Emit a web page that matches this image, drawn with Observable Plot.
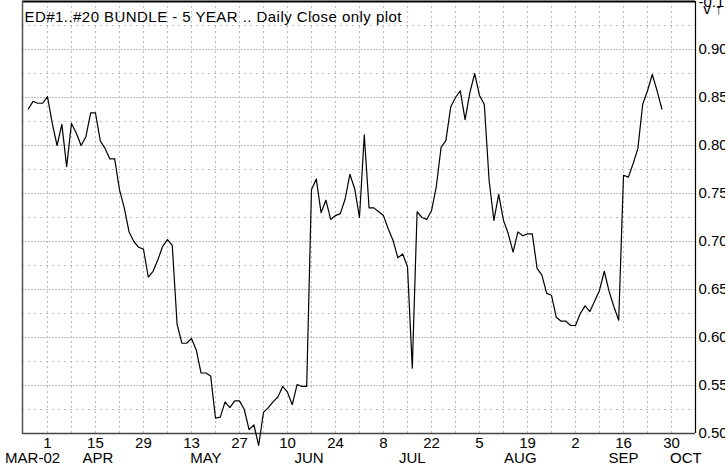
<!DOCTYPE html>
<html><head><meta charset="utf-8">
<script src="https://cdn.jsdelivr.net/npm/d3@7"></script>
<script src="https://cdn.jsdelivr.net/npm/@observablehq/plot@0.6"></script>
<style>html,body{margin:0;padding:0;background:#fff}#chart svg{display:block}</style>
</head><body><div id="chart"></div>
<script>
const title = "ED#1..#20 BUNDLE - 5 YEAR .. Daily Close only plot";
const firstDate = "2002-03-26";
const closes = [
  0.838,0.846,0.844,0.844,0.851,0.823,0.800,0.822,0.778,0.823,
  0.813,0.800,0.809,0.834,0.834,0.805,0.797,0.786,0.786,0.754,
  0.735,0.710,0.700,0.694,0.692,0.663,0.669,0.681,0.695,0.702,
  0.696,0.614,0.594,0.594,0.599,0.587,0.563,0.563,0.560,0.516,
  0.517,0.533,0.527,0.534,0.534,0.525,0.504,0.509,0.4875,0.522,
  0.527,0.533,0.538,0.549,0.543,0.530,0.551,0.549,0.549,0.754,
  0.765,0.730,0.743,0.723,0.727,0.729,0.744,0.770,0.755,0.725,
  0.811,0.735,0.735,0.731,0.727,0.713,0.701,0.683,0.687,0.674,
  0.568,0.731,0.725,0.723,0.732,0.757,0.798,0.805,0.840,0.850,
  0.857,0.827,0.855,0.875,0.852,0.843,0.764,0.722,0.749,0.722,
  0.708,0.689,0.710,0.706,0.708,0.708,0.672,0.665,0.646,0.644,
  0.621,0.617,0.617,0.6125,0.6125,0.625,0.633,0.627,0.638,0.649,
  0.669,0.648,0.632,0.618,0.769,0.767,0.781,0.797,0.843,0.857,
  0.874,0.857,0.838
];
const tickDates = ["2002-04-01","2002-04-15","2002-04-29","2002-05-13","2002-05-27","2002-06-10","2002-06-24","2002-07-08","2002-07-22","2002-08-05","2002-08-19","2002-09-02","2002-09-16","2002-09-30"];
const monthLabels = ["MAR-02","APR","MAY","JUN","JUL","AUG","SEP","OCT"];
const monthNumbers = [3,4,5,6,7,8,9,10];
const yTicks = [0.50,0.55,0.60,0.65,0.70,0.75,0.80,0.85,0.90];
const yMinor = [0.525,0.575,0.625,0.675,0.725,0.775,0.825,0.875,0.925];
const topLabel = "-0.1";

// weekday (trading-day) index relative to 2002-04-01
const origin = Date.UTC(2002,3,1);
const DAY = 86400000;
function isWeekday(t){const w=new Date(t).getUTCDay();return w!==0&&w!==6;}
function wd(t){
  let n=0, step = t>=origin?1:-1, cur=origin;
  while(cur!==t){cur+=step*DAY; if(isWeekday(cur)) n+=step;}
  return n;
}
function parse(s){const [y,m,d]=s.split("-").map(Number);return Date.UTC(y,m-1,d);}

const xDomain = [-5.2, 135];

const series = [];
{ let t = parse(firstDate); let idx = wd(t);
  for (const v of closes){ series.push({i: idx, v}); t+=DAY; while(!isWeekday(t)) t+=DAY; idx++; } }

const tickIdx = tickDates.map(s => wd(parse(s)));
const tickText = tickDates.map(s => String(Number(s.slice(8))));

const months = monthNumbers.map((m,j) => {
  let lo=Infinity, hi=-Infinity;
  for(let d=1; d<=31; d++){
    const t=Date.UTC(2002,m-1,d); if(new Date(t).getUTCMonth()!==m-1) break;
    if(isWeekday(t)){const k=wd(t); lo=Math.min(lo,k); hi=Math.max(hi,k);}
  }
  lo=Math.max(lo,xDomain[0]); hi=Math.min(hi,xDomain[1]);
  return {label: monthLabels[j], c:(lo+hi)/2};
});

const weekGrid = d3.range(0, 131, 5);
const grid = "#bdbdbd";

const chart = Plot.plot({
  width: 725, height: 469,
  marginLeft: 22, marginRight: 30, marginTop: 1, marginBottom: 36,
  style: {fontFamily: "'Liberation Sans', Arial, sans-serif", fontSize: "15px", background: "#fff", overflow: "visible"},
  x: {domain: xDomain, axis: null},
  y: {domain: [0.5, 0.95], axis: null},
  marks: [
    Plot.ruleY(yMinor, {stroke: grid, strokeDasharray: "2,4"}),
    Plot.ruleY(yTicks, {stroke: grid, strokeDasharray: "2,1"}),
    Plot.ruleX(weekGrid, {stroke: grid, strokeDasharray: "2,3"}),
    Plot.ruleY([0.5], {stroke: "#444", strokeWidth: 1.3}),
    Plot.ruleY([0.95], {stroke: "#000", strokeWidth: 2}),
    Plot.ruleX([xDomain[0]], {stroke: "#555", strokeWidth: 1.5}),
    Plot.ruleX([xDomain[1]], {stroke: "#000", strokeWidth: 1.2}),
    Plot.line(series, {x: "i", y: "v", stroke: "#000", strokeWidth: 1.2}),
    Plot.axisY(yTicks, {anchor: "right", tickSize: 0, tickPadding: 3, tickFormat: d => d.toFixed(2), fontSize: 15, fill: "#000"}),
    Plot.axisX(tickIdx, {anchor: "bottom", tickSize: 0, tickPadding: 4, tickFormat: (d) => tickText[tickIdx.indexOf(d)], fontSize: 15, fill: "#000"}),
    Plot.text(months, {x: "c", y: () => 0.5, text: "label", dy: 24.5, fontSize: 15, fill: "#000"}),
    Plot.text([title], {frameAnchor: "top-left", dx: 2, dy: 10, textAnchor: "start", lineAnchor: "top", fontSize: 15, fill: "#000"}),
    Plot.text([topLabel], {frameAnchor: "top-right", dx: 3, dy: 1, textAnchor: "start", lineAnchor: "middle", fontSize: 15, fill: "#000"})
  ]
});
document.getElementById("chart").appendChild(chart);
for (const t of chart.querySelectorAll("text")) {
  if (t.textContent === title) t.setAttribute("letter-spacing", "0.45");
}
</script>
</body></html>
